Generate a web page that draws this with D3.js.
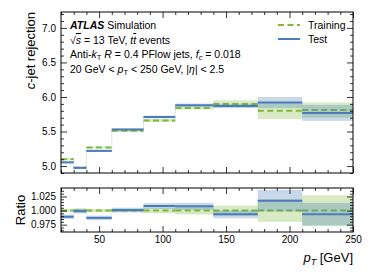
<!DOCTYPE html>
<html>
<head>
<meta charset="utf-8">
<script src="https://cdn.jsdelivr.net/npm/d3@7.9.0/dist/d3.min.js"></script>
<style>
  body { margin: 0; background: #fff; }
  svg { font-family: "Liberation Sans", Arial, sans-serif; }
  .tick text { font-size: 10px; fill: #000; }
  .domain { display: none; }
</style>
</head>
<body>
<svg id="chart" width="374" height="280"></svg>
<script>
// bin edges in pT [GeV]
const binEdges = [20, 30, 40, 60, 85, 110, 140, 175, 210, 250];

// c-jet rejection per bin
const trainValues = [5.10, 4.975, 5.27, 5.51, 5.66, 5.84, 5.90, 5.80, 5.81];
const trainErrors = [0.012, 0.012, 0.012, 0.014, 0.02, 0.02, 0.05, 0.12, 0.11];
const testValues  = [5.054, 4.975, 5.22, 5.53, 5.71, 5.88, 5.87, 5.92, 5.77];
const testErrors  = [0.015, 0.015, 0.015, 0.016, 0.02, 0.025, 0.03, 0.08, 0.115];

// ratio to training
const ratioTrainErrors = [0.003, 0.004, 0.003, 0.003, 0.005, 0.007, 0.009, 0.02, 0.027];
const ratioTestValues  = [0.989, 0.999, 0.987, 1.001, 1.008, 1.0075, 0.9935, 1.0175, 0.9935];
const ratioTestErrors  = [0.004, 0.004, 0.004, 0.004, 0.005, 0.006, 0.007, 0.019, 0.02];

const xMajor = [50, 100, 150, 200, 250];
const mainYMajor = [5.0, 5.5, 6.0, 6.5, 7.0];
const ratioYMajor = [0.975, 1.000, 1.025];

const green = "#7cb83a";
const blue = "#4a7db8";

const svg = d3.select("#chart");
const left = 61, right = 353;
const main = { top: 12, bottom: 173 };
const rat = { top: 188, bottom: 232 };

const x = d3.scaleLinear().domain([20, 250]).range([left, right]);
const yMain = d3.scaleLinear().domain([4.9, 7.23]).range([main.bottom, main.top]);
const yRatio = d3.scaleLinear().domain([0.962, 1.040]).range([rat.bottom, rat.top]);

const bins = d3.range(binEdges.length - 1).map(i => ({ lo: binEdges[i], hi: binEdges[i + 1], i }));

svg.append("defs").selectAll("clipPath")
  .data([["clipMain", main], ["clipRatio", rat]])
  .join("clipPath").attr("id", d => d[0])
  .append("rect")
    .attr("x", left).attr("y", d => d[1].top)
    .attr("width", right - left).attr("height", d => d[1].bottom - d[1].top);

function drawSeries(g, y, vals, errs, color, dashed) {
  g.append("g").selectAll("rect")
    .data(bins)
    .join("rect")
      .attr("x", d => x(d.lo))
      .attr("width", d => x(d.hi) - x(d.lo))
      .attr("y", d => y(vals[d.i] + errs[d.i]))
      .attr("height", d => y(vals[d.i] - errs[d.i]) - y(vals[d.i] + errs[d.i]))
      .attr("fill", color)
      .attr("fill-opacity", 0.3);
  // faint step connectors
  g.append("g").selectAll("line")
    .data(bins.slice(1))
    .join("line")
      .attr("x1", d => x(d.lo)).attr("x2", d => x(d.lo))
      .attr("y1", d => y(vals[d.i - 1])).attr("y2", d => y(vals[d.i]))
      .attr("stroke", color).attr("stroke-opacity", 0.12).attr("stroke-width", 1);
  g.append("g").selectAll("line")
    .data(bins)
    .join("line")
      .attr("x1", d => x(d.lo)).attr("x2", d => x(d.hi))
      .attr("y1", d => y(vals[d.i])).attr("y2", d => y(vals[d.i]))
      .attr("stroke", color)
      .attr("stroke-width", 2)
      .attr("stroke-dasharray", dashed ? "6,3.5" : null);
}

const gMain = svg.append("g").attr("clip-path", "url(#clipMain)");
drawSeries(gMain, yMain, trainValues, trainErrors, green, true);
drawSeries(gMain, yMain, testValues, testErrors, blue, false);

const gRatio = svg.append("g").attr("clip-path", "url(#clipRatio)");
drawSeries(gRatio, yRatio, trainValues.map(() => 1), ratioTrainErrors, green, true);
drawSeries(gRatio, yRatio, ratioTestValues, ratioTestErrors, blue, false);

// axes with inward ticks on all sides
function ticks(panel, y, yMajorVals, yMinorStep, xLabels, yFmt) {
  const xMinor = d3.range(20, 251, 10).filter(v => !xMajor.includes(v));
  const yMinor = d3.range(y.domain()[0], y.domain()[1], yMinorStep)
    .map(v => Math.round(v / yMinorStep) * yMinorStep)
    .filter(v => v >= y.domain()[0] && v <= y.domain()[1]);
  const yMin = yMinor.filter(v => !yMajorVals.some(m => Math.abs(m - v) < 1e-9));

  svg.append("g").attr("transform", `translate(0,${panel.bottom})`)
    .call(d3.axisBottom(x).tickValues(xMajor).tickSize(-6).tickPadding(4)
      .tickFormat(xLabels ? d3.format("d") : ""));
  svg.append("g").attr("transform", `translate(0,${panel.bottom})`)
    .call(d3.axisBottom(x).tickValues(xMinor).tickSize(-3).tickFormat(""));
  svg.append("g").attr("transform", `translate(0,${panel.top})`)
    .call(d3.axisTop(x).tickValues(xMajor).tickSize(-6).tickFormat(""));
  svg.append("g").attr("transform", `translate(0,${panel.top})`)
    .call(d3.axisTop(x).tickValues(xMinor).tickSize(-3).tickFormat(""));

  svg.append("g").attr("transform", `translate(${left},0)`)
    .call(d3.axisLeft(y).tickValues(yMajorVals).tickSize(-6).tickPadding(5).tickFormat(d3.format(yFmt)));
  svg.append("g").attr("transform", `translate(${left},0)`)
    .call(d3.axisLeft(y).tickValues(yMin).tickSize(-3).tickFormat(""));
  svg.append("g").attr("transform", `translate(${right},0)`)
    .call(d3.axisRight(y).tickValues(yMajorVals).tickSize(-6).tickFormat(""));
  svg.append("g").attr("transform", `translate(${right},0)`)
    .call(d3.axisRight(y).tickValues(yMin).tickSize(-3).tickFormat(""));

  svg.append("rect")
    .attr("x", left).attr("y", panel.top)
    .attr("width", right - left).attr("height", panel.bottom - panel.top)
    .attr("fill", "none").attr("stroke", "#000").attr("stroke-width", 1);
}

ticks(main, yMain, mainYMajor, 0.1, false, ".1f");
ticks(rat, yRatio, ratioYMajor, 0.005, true, ".3f");

svg.selectAll(".tick line").attr("stroke", "#000").attr("stroke-width", 0.8);

// axis titles
svg.append("text")
  .attr("transform", `translate(35,${main.top}) rotate(-90)`)
  .attr("text-anchor", "end")
  .attr("font-size", 13)
  .html('<tspan font-style="italic">c</tspan>-jet rejection');

svg.append("text")
  .attr("transform", `translate(25,${(rat.top + rat.bottom) / 2}) rotate(-90)`)
  .attr("text-anchor", "middle")
  .attr("font-size", 13)
  .text("Ratio");

svg.append("text")
  .attr("x", right).attr("y", 262)
  .attr("text-anchor", "end")
  .attr("font-size", 13)
  .html('<tspan font-style="italic">p</tspan><tspan font-size="9" dy="3" font-style="italic">T</tspan><tspan dy="-3"> [GeV]</tspan>');

// ATLAS label block
const info = svg.append("g").attr("font-size", 10.5);
info.append("text").attr("x", 70).attr("y", 29)
  .html('<tspan font-weight="bold" font-style="italic">ATLAS</tspan> Simulation');
info.append("text").attr("x", 70).attr("y", 44)
  .html('\u221A<tspan text-decoration="overline" font-style="italic">s</tspan> = 13 TeV, <tspan font-style="italic">t</tspan><tspan font-style="italic" text-decoration="overline">t</tspan> events');
info.append("text").attr("x", 70).attr("y", 58)
  .html('Anti-<tspan font-style="italic">k</tspan><tspan font-size="7.5" dy="2">T</tspan><tspan dy="-2"> </tspan><tspan font-style="italic">R</tspan> = 0.4 PFlow jets, <tspan font-style="italic">f</tspan><tspan font-size="7.5" dy="2" font-style="italic">c</tspan><tspan dy="-2"> = 0.018</tspan>');
info.append("text").attr("x", 70).attr("y", 73)
  .html('20 GeV &lt; <tspan font-style="italic">p</tspan><tspan font-size="7.5" dy="2">T</tspan><tspan dy="-2"> &lt; 250 GeV, |</tspan><tspan font-style="italic">\u03B7</tspan>| &lt; 2.5');

// legend
const legendItems = [
  { label: "Training", color: green, dash: "6,3.5" },
  { label: "Test", color: blue, dash: null }
];
const lg = svg.append("g").selectAll("g")
  .data(legendItems)
  .join("g")
    .attr("transform", (d, i) => `translate(278,${25 + i * 14})`);
lg.append("line")
  .attr("x1", 0).attr("x2", 22)
  .attr("stroke", d => d.color).attr("stroke-width", 2)
  .attr("stroke-dasharray", d => d.dash);
lg.append("text")
  .attr("x", 30).attr("y", 4)
  .attr("font-size", 10.5)
  .text(d => d.label);
</script>
</body>
</html>
